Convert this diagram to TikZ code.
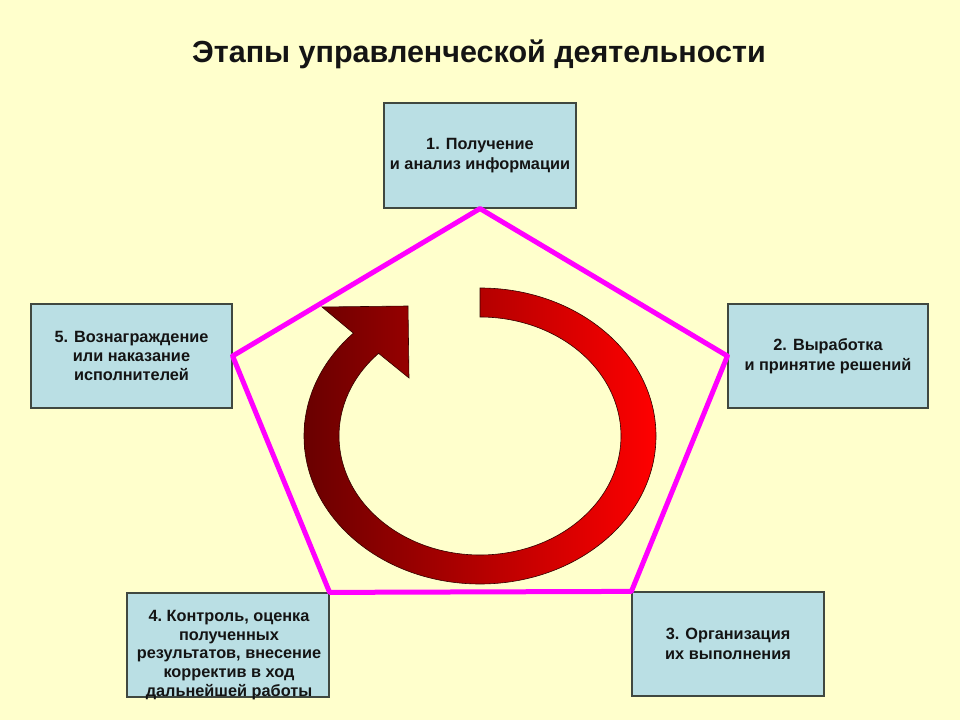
\documentclass[tikz,border=0pt]{standalone}
\usepackage{fontspec}
\setmainfont{Liberation Sans}
\usetikzlibrary{calc}
\definecolor{bgc}{RGB}{255,255,204}
\definecolor{boxfill}{RGB}{186,223,228}
\definecolor{boxline}{RGB}{64,72,64}
\definecolor{txt}{RGB}{20,20,20}
\definecolor{pent}{RGB}{255,0,255}
\definecolor{darkred}{RGB}{105,0,0}
\definecolor{brightred}{RGB}{255,0,0}
\definecolor{arrowedge}{RGB}{50,0,0}
\begin{document}
\begin{tikzpicture}[x=1pt,y=1pt,
  stagebox/.style={draw=boxline, line width=1.2pt, fill=boxfill, inner sep=0pt,
    align=center, text=txt, font=\bfseries\fontsize{16.3}{19.5}\selectfont},
  pentline/.style={draw=pent, line width=5pt, line join=round},
  ringarrow/.style={draw=arrowedge, line width=0.6pt, left color=darkred, right color=brightred},
  titletext/.style={text=txt, font=\bfseries\fontsize{30.5}{34}\selectfont, inner sep=0pt}
]
\useasboundingbox (0,0) rectangle (960,720);
\fill[bgc] (0,0) rectangle (960,720);

\node[titletext, anchor=base] (title) at (479,657) {Этапы управленческой деятельности};

\node[stagebox, minimum width=192pt, minimum height=105pt] (b1) at (480,564.5)
  {1. Получение\\и анализ информации};
\node[stagebox, minimum width=200pt, minimum height=104pt] (b2) at (828,364)
  {2. Выработка\\и принятие решений};
\node[stagebox, minimum width=192pt, minimum height=104pt] (b3) at (728,76)
  {3. Организация\\их выполнения};
\node[stagebox, minimum width=202pt, minimum height=104pt] (b4) at (228,75) {};
\node[text=txt, align=center, inner sep=0pt, font=\bfseries\fontsize{16.3}{18.75}\selectfont] (t4) at (229,65)
  {4.\ Контроль, оценка\\полученных\\результатов, внесение\\корректив в ход\\дальнейшей работы};
\node[stagebox, minimum width=201pt, minimum height=104pt, font=\bfseries\fontsize{16.3}{18.75}\selectfont] (b5) at (131.5,364)
  {5. Вознаграждение\\или наказание\\исполнителей};

% circular arrow
\coordinate (c) at (480,284);
\coordinate (outerjoin) at ($(c)+(136:176pt and 148pt)$);
\coordinate (headback) at (322,413);
\coordinate (headtip) at (408,414);
\coordinate (headside) at (409,342);
\coordinate (innerjoin) at ($(c)+(136:141pt and 119pt)$);
\path[ringarrow] ($(c)+(90:176pt and 148pt)$)
  arc[start angle=90, end angle=-224, x radius=176pt, y radius=148pt]
  -- (headback) -- (headtip) -- (headside) -- (innerjoin)
  arc[start angle=136, end angle=450, x radius=141pt, y radius=119pt]
  -- cycle;

% pentagon
\draw[pentline] (b1.south) -- (b2.west) -- (b3.north west) -- (b4.north east) -- (b5.east) -- cycle;
\end{tikzpicture}
\end{document}
